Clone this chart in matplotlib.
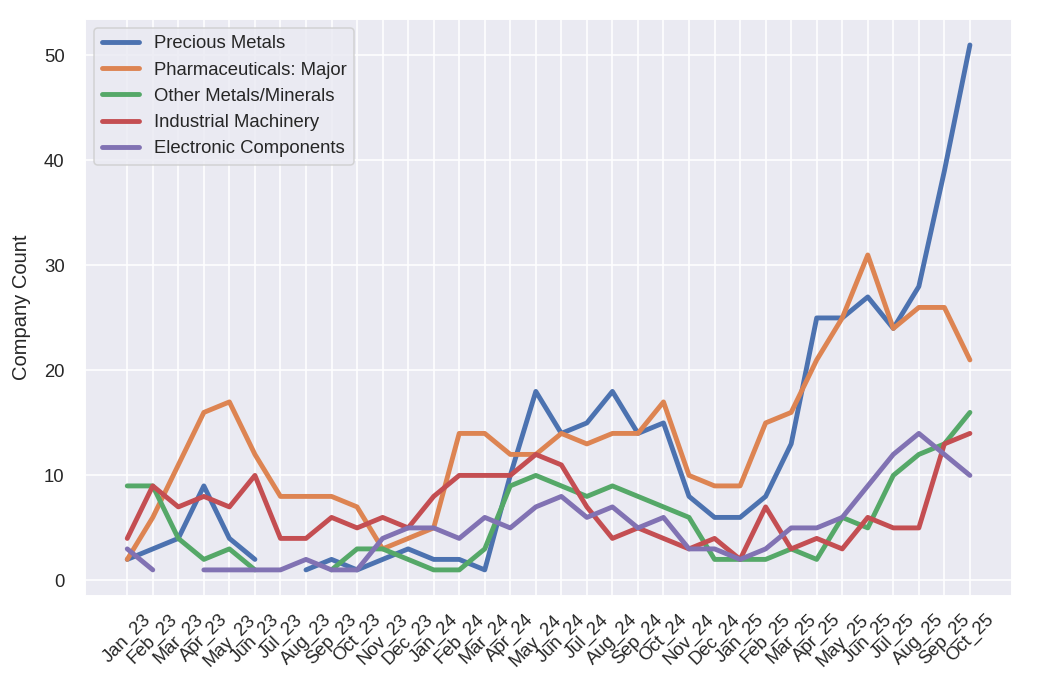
import numpy as np
import matplotlib
matplotlib.use('Agg')
import matplotlib.pyplot as plt
import seaborn as sns

sns.set_theme(style='darkgrid')
plt.rcParams['font.family'] = ['Liberation Sans', 'DejaVu Sans']
plt.rcParams['xtick.labelsize'] = 11.8
plt.rcParams['ytick.labelsize'] = 11.8
plt.rcParams['axes.labelsize'] = 12.8
plt.rcParams['legend.fontsize'] = 11.8

nan = np.nan

months = ['Jan_23', 'Feb_23', 'Mar_23', 'Apr_23', 'May_23', 'Jun_23',
          'Jul_23', 'Aug_23', 'Sep_23', 'Oct_23', 'Nov_23', 'Dec_23',
          'Jan_24', 'Feb_24', 'Mar_24', 'Apr_24', 'May_24', 'Jun_24',
          'Jul_24', 'Aug_24', 'Sep_24', 'Oct_24', 'Nov_24', 'Dec_24',
          'Jan_25', 'Feb_25', 'Mar_25', 'Apr_25', 'May_25', 'Jun_25',
          'Jul_25', 'Aug_25', 'Sep_25', 'Oct_25']

precious_metals = [2, 3, 4, 9, 4, 2, nan, 1, 2, 1, 2, 3,
                   2, 2, 1, 10, 18, 14, 15, 18, 14, 15, 8, 6,
                   6, 8, 13, 25, 25, 27, 24, 28, 39, 51]
pharma_major = [2, 6, 11, 16, 17, 12, 8, 8, 8, 7, 3, 4,
                5, 14, 14, 12, 12, 14, 13, 14, 14, 17, 10, 9,
                9, 15, 16, 21, 25, 31, 24, 26, 26, 21]
other_metals = [9, 9, 4, 2, 3, 1, nan, nan, 1, 3, 3, 2,
                1, 1, 3, 9, 10, 9, 8, 9, 8, 7, 6, 2,
                2, 2, 3, 2, 6, 5, 10, 12, 13, 16]
industrial_machinery = [4, 9, 7, 8, 7, 10, 4, 4, 6, 5, 6, 5,
                        8, 10, 10, 10, 12, 11, 7, 4, 5, 4, 3, 4,
                        2, 7, 3, 4, 3, 6, 5, 5, 13, 14]
electronic_components = [3, 1, nan, 1, 1, 1, 1, 2, 1, 1, 4, 5,
                         5, 4, 6, 5, 7, 8, 6, 7, 5, 6, 3, 3,
                         2, 3, 5, 5, 6, 9, 12, 14, 12, 10]

series = [
    ('Precious Metals', precious_metals),
    ('Pharmaceuticals: Major', pharma_major),
    ('Other Metals/Minerals', other_metals),
    ('Industrial Machinery', industrial_machinery),
    ('Electronic Components', electronic_components),
]

dpi = 113
fig, ax = plt.subplots(figsize=(1038 / dpi, 694 / dpi), dpi=dpi)
fig.subplots_adjust(left=0.082, right=0.975, top=0.973, bottom=0.141)

x = np.arange(len(months))
for name, values in series:
    ax.plot(x, values, linewidth=3.1, label=name)

ax.set_xticks(x)
ax.set_xticklabels(months, rotation=45)
ax.set_ylabel('Company Count', labelpad=8)
ax.tick_params(axis='y', pad=7)
ax.legend(loc='upper left')

fig.savefig('out.png', dpi=dpi)
